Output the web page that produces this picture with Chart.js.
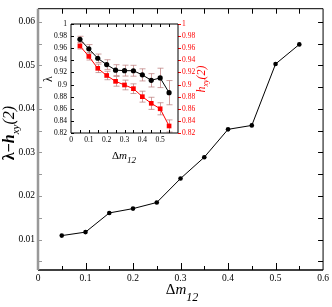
<!DOCTYPE html>
<html>
<head>
<meta charset="utf-8">
<script src="https://cdn.jsdelivr.net/npm/chart.js@4.4.1/dist/chart.umd.min.js"></script>
<style>
  body { margin: 0; background: #fff; }
  #wrap { position: relative; width: 332px; height: 307px; }
  #inset { position: absolute; left: 40px; top: 12px; }
</style>
</head>
<body>
<div id="wrap">
  <canvas id="main" width="332" height="307"></canvas>
  <canvas id="inset" width="180" height="155"></canvas>
</div>
<script>
// datos del grafico principal
const dm = [0.05, 0.1, 0.15, 0.2, 0.25, 0.3, 0.35, 0.4, 0.45, 0.5, 0.55];
const diff = [0.0109, 0.0117, 0.0161, 0.0171, 0.0185, 0.0240, 0.0289, 0.0353, 0.0362, 0.0503, 0.0548];
const mainXTicks = [0, 0.1, 0.2, 0.3, 0.4, 0.5, 0.6];
const mainXLabels = ["0", "0.1", "0.2", "0.3", "0.4", "0.5", "0.6"];
const mainYTicks = [0.01, 0.02, 0.03, 0.04, 0.05, 0.06];
const mainYLabels = ["0.01", "0.02", "0.03", "0.04", "0.05", "0.06"];
const mainXMinor = [0.05, 0.15, 0.25, 0.35, 0.45, 0.55];
const mainXMajor = [0.1, 0.2, 0.3, 0.4, 0.5];
const mainYMinor = [0.005, 0.01, 0.015, 0.02, 0.025, 0.03, 0.035, 0.04, 0.045, 0.05, 0.055, 0.06];

// datos del recuadro
const lambda = [0.9747, 0.9590, 0.9434, 0.9330, 0.9238, 0.9230, 0.9228, 0.9160, 0.9070, 0.9110, 0.8866];
const lambdaErr = [0.005, 0.007, 0.007, 0.008, 0.009, 0.009, 0.009, 0.010, 0.011, 0.016, 0.020];
const hxy = [0.9637, 0.9465, 0.9268, 0.9150, 0.9053, 0.8993, 0.8932, 0.8800, 0.8690, 0.8600, 0.8316];
const hxyErr = [0.005, 0.006, 0.007, 0.007, 0.008, 0.008, 0.008, 0.009, 0.010, 0.010, 0.010];
const insetXTicks = [0, 0.1, 0.2, 0.3, 0.4, 0.5];
const insetXLabels = ["0", "0.1", "0.2", "0.3", "0.4", "0.5"];
const insetYTicks = [1, 0.98, 0.96, 0.94, 0.92, 0.9, 0.88, 0.86, 0.84, 0.82];
const insetYLabels = ["1", "0.98", "0.96", "0.94", "0.92", "0.9", "0.88", "0.86", "0.84", "0.82"];

const serif = "Liberation Serif";

// marcas hacia dentro y bordes
const frame = {
  id: "frame",
  afterDraw(chart, args, o) {
    const { ctx, chartArea: a, scales } = chart;
    ctx.save();
    (o.ticks || []).forEach(t => {
      const s = scales[t.scale];
      ctx.strokeStyle = t.color;
      ctx.lineWidth = t.width || 1;
      t.values.forEach(v => {
        const p = Math.round(s.getPixelForValue(v)) + 0.5;
        ctx.beginPath();
        if (t.side === "bottom") { ctx.moveTo(p, a.bottom); ctx.lineTo(p, a.bottom - t.len); }
        if (t.side === "top") { ctx.moveTo(p, a.top); ctx.lineTo(p, a.top + t.len); }
        if (t.side === "left") { ctx.moveTo(a.left, p); ctx.lineTo(a.left + t.len, p); }
        if (t.side === "right") { ctx.moveTo(a.right, p); ctx.lineTo(a.right - t.len, p); }
        if (t.side === "rightOut") { ctx.moveTo(a.right, p); ctx.lineTo(a.right + t.len, p); }
        ctx.stroke();
      });
    });
    (o.lines || []).forEach(l => {
      ctx.strokeStyle = l.color;
      ctx.lineWidth = l.width;
      ctx.beginPath();
      if (l.side === "bottom") { ctx.moveTo(a.left, a.bottom); ctx.lineTo(a.right, a.bottom); }
      if (l.side === "top") { ctx.moveTo(a.left, a.top); ctx.lineTo(a.right, a.top); }
      if (l.side === "left") { ctx.moveTo(a.left, a.top); ctx.lineTo(a.left, a.bottom); }
      if (l.side === "right") { ctx.moveTo(a.right, a.top); ctx.lineTo(a.right, a.bottom); }
      ctx.stroke();
    });
    ctx.restore();
  }
};

// titulos con subindices
const richTitles = {
  id: "richTitles",
  afterDraw(chart, args, o) {
    const ctx = chart.ctx;
    (o.items || []).forEach(it => {
      ctx.save();
      ctx.translate(it.x, it.y);
      ctx.rotate(it.rot || 0);
      ctx.fillStyle = it.color || "#000";
      ctx.textBaseline = "alphabetic";
      ctx.textAlign = "left";
      let w = 0;
      it.parts.forEach(p => { ctx.font = p.font; w += ctx.measureText(p.t).width; });
      let x = -w / 2;
      it.parts.forEach(p => {
        ctx.font = p.font;
        ctx.fillText(p.t, x, p.dy || 0);
        x += ctx.measureText(p.t).width;
      });
      ctx.restore();
    });
  }
};

// barras de error
const errorBars = {
  id: "errorBars",
  beforeDatasetsDraw(chart, args, o) {
    const ctx = chart.ctx;
    ctx.save();
    ctx.strokeStyle = o.color;
    ctx.lineWidth = 1;
    chart.data.datasets.forEach((ds, i) => {
      if (!ds.errors) return;
      const meta = chart.getDatasetMeta(i);
      const ys = chart.scales[ds.yAxisID];
      meta.data.forEach((pt, j) => {
        const v = ds.data[j].y, e = ds.errors[j];
        const y1 = ys.getPixelForValue(v + e), y2 = ys.getPixelForValue(v - e);
        const x = Math.round(pt.x) + 0.5;
        ctx.beginPath();
        ctx.moveTo(x, y1); ctx.lineTo(x, y2);
        ctx.moveTo(x - 3, y1); ctx.lineTo(x + 3, y1);
        ctx.moveTo(x - 3, y2); ctx.lineTo(x + 3, y2);
        ctx.stroke();
      });
    });
    ctx.restore();
  }
};

const pts = (xs, ys) => xs.map((x, i) => ({ x: x, y: ys[i] }));

// grafico principal
new Chart(document.getElementById("main").getContext("2d"), {
  type: "line",
  data: {
    datasets: [{
      data: pts(dm, diff),
      borderColor: "#000",
      borderWidth: 1,
      backgroundColor: "#000",
      pointRadius: 2.3,
      pointBorderWidth: 0,
      tension: 0
    }]
  },
  options: {
    responsive: false,
    animation: false,
    layout: { padding: { top: 1, right: 6, left: 0, bottom: 0 } },
    plugins: {
      legend: { display: false },
      tooltip: { enabled: false },
      frame: {
        ticks: [
          { scale: "x", side: "bottom", values: mainXMajor, len: 7, color: "#000" },
          { scale: "x", side: "bottom", values: mainXMinor, len: 4, color: "#000" },
          { scale: "x", side: "top", values: mainXMajor.concat(mainXMinor), len: 5, color: "#000" },
          { scale: "y", side: "left", values: mainYMinor, len: 4, color: "#999" },
          { scale: "y", side: "right", values: mainYMinor, len: 5, color: "#000" }
        ],
        lines: [
          { side: "top", color: "#000", width: 1 },
          { side: "right", color: "#000", width: 1 },
          { side: "bottom", color: "#000", width: 1.5 },
          { side: "left", color: "#999", width: 2.5 }
        ]
      },
      richTitles: {
        items: [
          { x: 182, y: 294, parts: [
            { t: "Δ", font: "15px " + serif },
            { t: "m", font: "italic 15px " + serif },
            { t: "12", font: "italic 12px " + serif, dy: 7 }
          ] },
          { x: 14, y: 133, rot: -Math.PI / 2, parts: [
            { t: "λ−", font: "bold 16px " + serif },
            { t: "h", font: "bold italic 16px " + serif },
            { t: "xy", font: "italic 11px " + serif, dy: 5 },
            { t: "(2)", font: "italic 16px " + serif }
          ] }
        ]
      }
    },
    scales: {
      x: {
        type: "linear", min: 0, max: 0.6,
        afterBuildTicks: s => { s.ticks = mainXTicks.map(v => ({ value: v })); },
        afterFit: s => { s.height = 37; },
        ticks: { color: "#000", font: { family: serif, size: 9.5 }, padding: 3, maxRotation: 0, autoSkip: false,
          callback: (v, i) => mainXLabels[i] },
        grid: { display: false, drawTicks: false },
        border: { display: false }
      },
      y: {
        type: "linear", min: 0.003, max: 0.063,
        afterBuildTicks: s => { s.ticks = mainYTicks.map(v => ({ value: v })); },
        afterFit: s => { s.width = 38; },
        ticks: { color: "#000", font: { family: serif, size: 9.5 }, padding: 3, autoSkip: false,
          callback: (v, i) => mainYLabels[i] },
        grid: { display: false, drawTicks: false },
        border: { display: false }
      }
    }
  },
  plugins: [frame, richTitles]
});

// recuadro
new Chart(document.getElementById("inset").getContext("2d"), {
  type: "line",
  data: {
    datasets: [
      {
        data: pts(dm, lambda),
        errors: lambdaErr,
        yAxisID: "y",
        borderColor: "#000",
        backgroundColor: "#000",
        borderWidth: 1,
        pointRadius: 2.6,
        pointBorderWidth: 0,
        tension: 0
      },
      {
        data: pts(dm, hxy),
        errors: hxyErr,
        yAxisID: "y2",
        borderColor: "#ff0000",
        backgroundColor: "#ff0000",
        borderWidth: 1,
        pointStyle: "rect",
        pointRadius: 3.3,
        pointBorderWidth: 0,
        tension: 0
      }
    ]
  },
  options: {
    responsive: false,
    animation: false,
    layout: { padding: { top: 12, right: 0, left: 0, bottom: 0 } },
    plugins: {
      legend: { display: false },
      tooltip: { enabled: false },
      errorBars: { color: "rgba(185,120,120,0.7)" },
      frame: {
        ticks: [
          { scale: "x", side: "bottom", values: mainXMajor.concat(mainXMinor), len: 3, color: "#000" },
          { scale: "x", side: "top", values: mainXMajor.concat(mainXMinor), len: 3, color: "#000" },
          { scale: "y", side: "left", values: insetYTicks, len: 3, color: "#000" },
          { scale: "y2", side: "rightOut", values: insetYTicks, len: 3, color: "#ff0000" }
        ],
        lines: [
          { side: "top", color: "#000", width: 1 },
          { side: "right", color: "#000", width: 1 },
          { side: "bottom", color: "#000", width: 1 },
          { side: "left", color: "#000", width: 1 }
        ]
      },
      richTitles: {
        items: [
          { x: 84, y: 147, parts: [
            { t: "Δ", font: "11px " + serif },
            { t: "m", font: "italic 11px " + serif },
            { t: "12", font: "italic 9px " + serif, dy: 4 }
          ] },
          { x: 12, y: 67, rot: -Math.PI / 2, parts: [
            { t: "λ", font: "12px " + serif }
          ] },
          { x: 165, y: 67, rot: -Math.PI / 2, color: "#ff0000", parts: [
            { t: "h", font: "italic 12px " + serif },
            { t: "xy", font: "italic 8px " + serif, dy: 3 },
            { t: "(2)", font: "italic 12px " + serif }
          ] }
        ]
      }
    },
    scales: {
      x: {
        type: "linear", min: 0, max: 0.6,
        afterBuildTicks: s => { s.ticks = insetXTicks.map(v => ({ value: v })); },
        afterFit: s => { s.height = 34; },
        ticks: { color: "#000", font: { family: serif, size: 7.5 }, padding: 3, maxRotation: 0, autoSkip: false,
          callback: (v, i) => insetXLabels[i] },
        grid: { display: false, drawTicks: false },
        border: { display: false }
      },
      y: {
        type: "linear", position: "left", min: 0.82, max: 1,
        afterBuildTicks: s => { s.ticks = insetYTicks.map(v => ({ value: v })); },
        afterFit: s => { s.width = 31; },
        ticks: { color: "#000", font: { family: serif, size: 7.5 }, padding: 4, autoSkip: false,
          callback: (v, i) => insetYLabels[i] },
        grid: { display: false, drawTicks: false },
        border: { display: false }
      },
      y2: {
        type: "linear", position: "right", min: 0.82, max: 1,
        afterBuildTicks: s => { s.ticks = insetYTicks.map(v => ({ value: v })); },
        afterFit: s => { s.width = 42; },
        ticks: { color: "#ff0000", font: { family: serif, size: 7.5 }, padding: 4, autoSkip: false,
          callback: (v, i) => insetYLabels[i] },
        grid: { display: false, drawTicks: false },
        border: { display: false }
      }
    }
  },
  plugins: [errorBars, frame, richTitles]
});
</script>
</body>
</html>
